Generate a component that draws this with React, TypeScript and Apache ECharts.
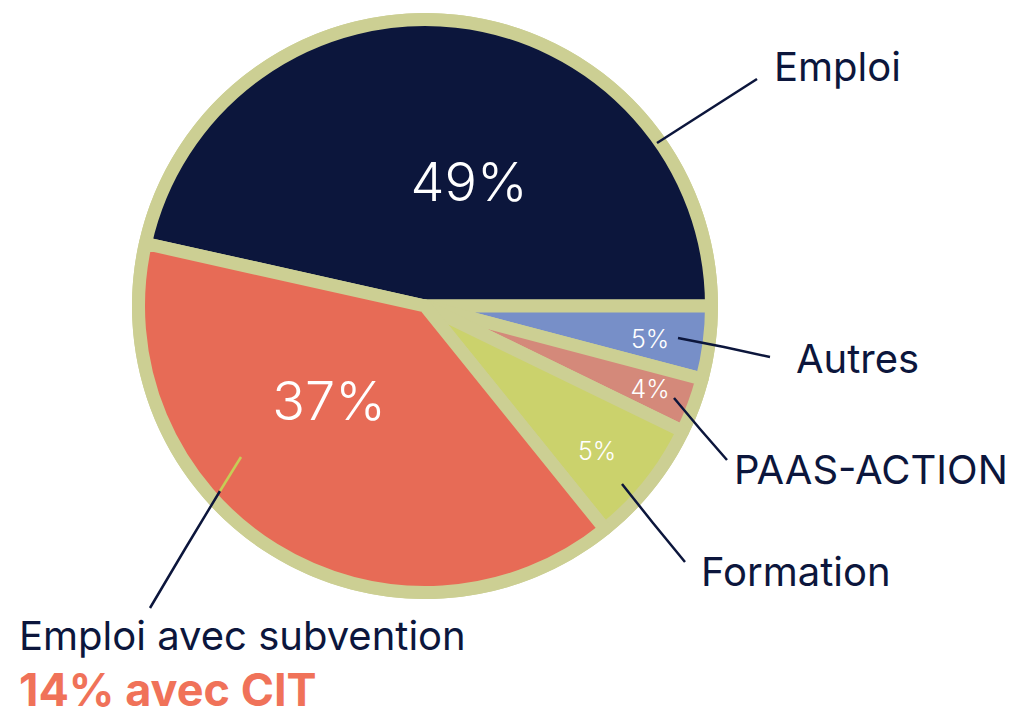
import React, { useEffect, useRef } from "react";
import * as echarts from "echarts";

// ---- data ----
const categories = ["Emploi", "Autres", "PAAS-ACTION", "Formation", "Emploi avec subvention"];
// angular share of each slice as drawn in the picture (percent of the full circle)
const sliceShares = [46.5, 4.1, 3.1, 7.0, 39.3];
// percentages printed on the slices
const shownPercents = [49, 5, 4, 5, 37];
const citNote = "14% avec CIT";

// ---- styles / layout ----
const colors = ["#0c163c", "#778fc8", "#d4897a", "#cbd26c", "#e76b56"];
const NAVY = "#0c163c";
const RING = "#cccf93";
const CIT_COLOR = "#f07259";
const FONT = "Inter, 'Noto Sans', sans-serif";

const CX = 425;
const CY = 306;
const R_OUT = 293;
const GAP = 13;
const START_ANGLE = 167.4;

const innerLabelPos = [[469, 181], [650, 339], [650, 389], [597, 451], [329, 400]];
const innerLabelSize = [54, 25, 25, 25, 54];
const outerLabelPos = [[774, 66], [796, 358], [734, 469], [701, 571], [19, 608]];
const leaderLines = [
  [[657, 143], [707, 111], [757, 79]],
  [[678, 338], [724, 347], [770, 357]],
  [[674, 398], [700, 429], [727, 460]],
  [[622, 484], [653, 523], [685, 562]],
  [[220, 491], [185, 549], [150, 608]],
];
const innerTick = { x1: 241, y1: 457, x2: 220, y2: 491 };

export default function App() {
  const ref = useRef<HTMLDivElement>(null);

  useEffect(() => {
    if (!ref.current) return;
    const chart = echarts.init(ref.current, undefined, { renderer: "svg" });

    const mainData = categories.map((name, i) => ({
      name,
      value: sliceShares[i],
      itemStyle: { color: colors[i] },
      label: { fontSize: innerLabelSize[i] },
    }));
    const overlayData = categories.map((name, i) => ({ name, value: sliceShares[i] }));

    chart.setOption({
      animation: false,
      backgroundColor: "#ffffff",
      series: [
        {
          type: "pie",
          silent: true,
          center: [CX, CY],
          radius: [0, R_OUT],
          label: { show: false },
          labelLine: { show: false },
          itemStyle: { color: RING },
          data: [{ name: "ring", value: 1 }],
          z: 1,
        },
        {
          type: "pie",
          silent: true,
          center: [CX, CY],
          radius: [0, R_OUT - GAP / 2],
          startAngle: START_ANGLE,
          clockwise: true,
          avoidLabelOverlap: false,
          itemStyle: { borderColor: RING, borderWidth: GAP, borderJoin: "round" },
          label: {
            show: true,
            position: "inside",
            color: "#ffffff",
            fontFamily: FONT,
            fontWeight: 300,
            formatter: (p: any) => `${shownPercents[p.dataIndex]}%`,
          },
          labelLine: { show: false },
          labelLayout: (p: any) => ({
            x: innerLabelPos[p.dataIndex][0],
            y: innerLabelPos[p.dataIndex][1],
            align: "center",
            verticalAlign: "middle",
          }),
          data: mainData,
          z: 2,
        },
        {
          type: "pie",
          silent: true,
          center: [CX, CY],
          radius: [0, R_OUT - GAP / 2],
          startAngle: START_ANGLE,
          clockwise: true,
          avoidLabelOverlap: false,
          itemStyle: { color: "transparent", borderWidth: 0 },
          label: {
            show: true,
            position: "outside",
            fontFamily: FONT,
            formatter: (p: any) =>
              p.dataIndex === 4 ? `{a|${p.name}}\n{b|${citNote}}` : `{a|${p.name}}`,
            rich: {
              a: { fontSize: 40, color: NAVY, fontFamily: FONT, lineHeight: 54 },
              b: {
                fontSize: 45,
                color: CIT_COLOR,
                fontFamily: FONT,
                fontWeight: "bold",
                lineHeight: 44,
                padding: [10, 0, 0, 0],
              },
            },
          },
          labelLine: { show: true, length: 10, length2: 10, lineStyle: { color: NAVY, width: 2.5 } },
          labelLayout: (p: any) => {
            const i = p.dataIndex;
            return {
              x: outerLabelPos[i][0],
              y: outerLabelPos[i][1],
              align: "left",
              verticalAlign: i === 4 ? "top" : "middle",
              labelLinePoints: leaderLines[i],
            };
          },
          data: overlayData,
          z: 3,
        },
      ],
      graphic: [
        {
          type: "line",
          silent: true,
          z: 10,
          shape: innerTick,
          style: { stroke: "#c6cd56", lineWidth: 2.5 },
        },
      ],
    });

    return () => chart.dispose();
  }, []);

  return (
    <div
      ref={ref}
      style={{ position: "absolute", left: 0, top: 0, width: 1025, height: 716 }}
    />
  );
}
